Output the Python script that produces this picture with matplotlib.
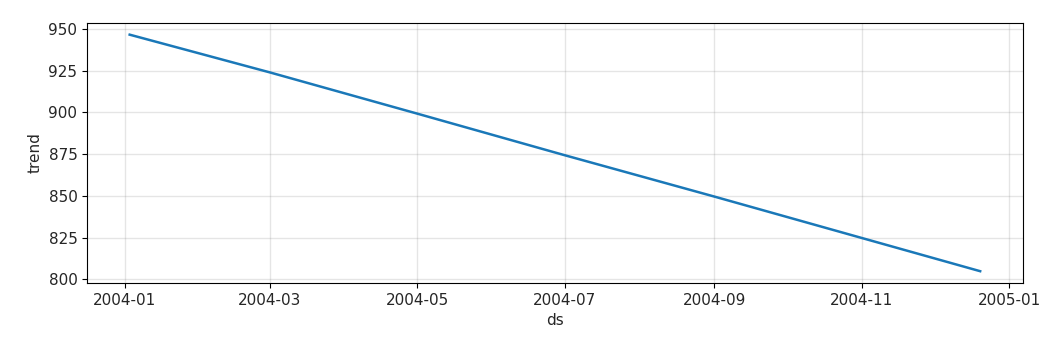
import matplotlib

matplotlib.use("Agg")

import matplotlib.pyplot as plt
import matplotlib.dates as mdates
import matplotlib.ticker as mticker
import numpy as np

# trend values
ds = np.array(["2004-01-03", "2004-03-01", "2004-05-01", "2004-07-01",
               "2004-09-01", "2004-11-01", "2004-12-20"], dtype="datetime64[D]")
trend = [946.6, 924.0, 899.3, 874.4, 849.6, 824.8, 804.9]

plt.rcParams["font.size"] = 11
plt.rcParams["text.color"] = "#262626"
plt.rcParams["xtick.labelcolor"] = "#262626"
plt.rcParams["ytick.labelcolor"] = "#262626"
plt.rcParams["axes.labelcolor"] = "#262626"

fig = plt.figure(figsize=(10.5, 3.46), dpi=100)
ax = fig.add_axes([0.083, 0.182, 0.891, 0.752])
ax.plot(ds, trend, ls="-", c="#1a78b8", lw=1.8)
ax.grid(True, which="major", c="gray", ls="-", lw=1, alpha=0.2)
ax.xaxis.set_major_locator(mdates.MonthLocator(bymonth=[1, 3, 5, 7, 9, 11]))
ax.xaxis.set_major_formatter(mdates.DateFormatter("%Y-%m"))
ax.yaxis.set_major_locator(mticker.MultipleLocator(25))
ax.set_xlabel("ds")
ax.set_ylabel("trend")
fig.savefig("out.png")
